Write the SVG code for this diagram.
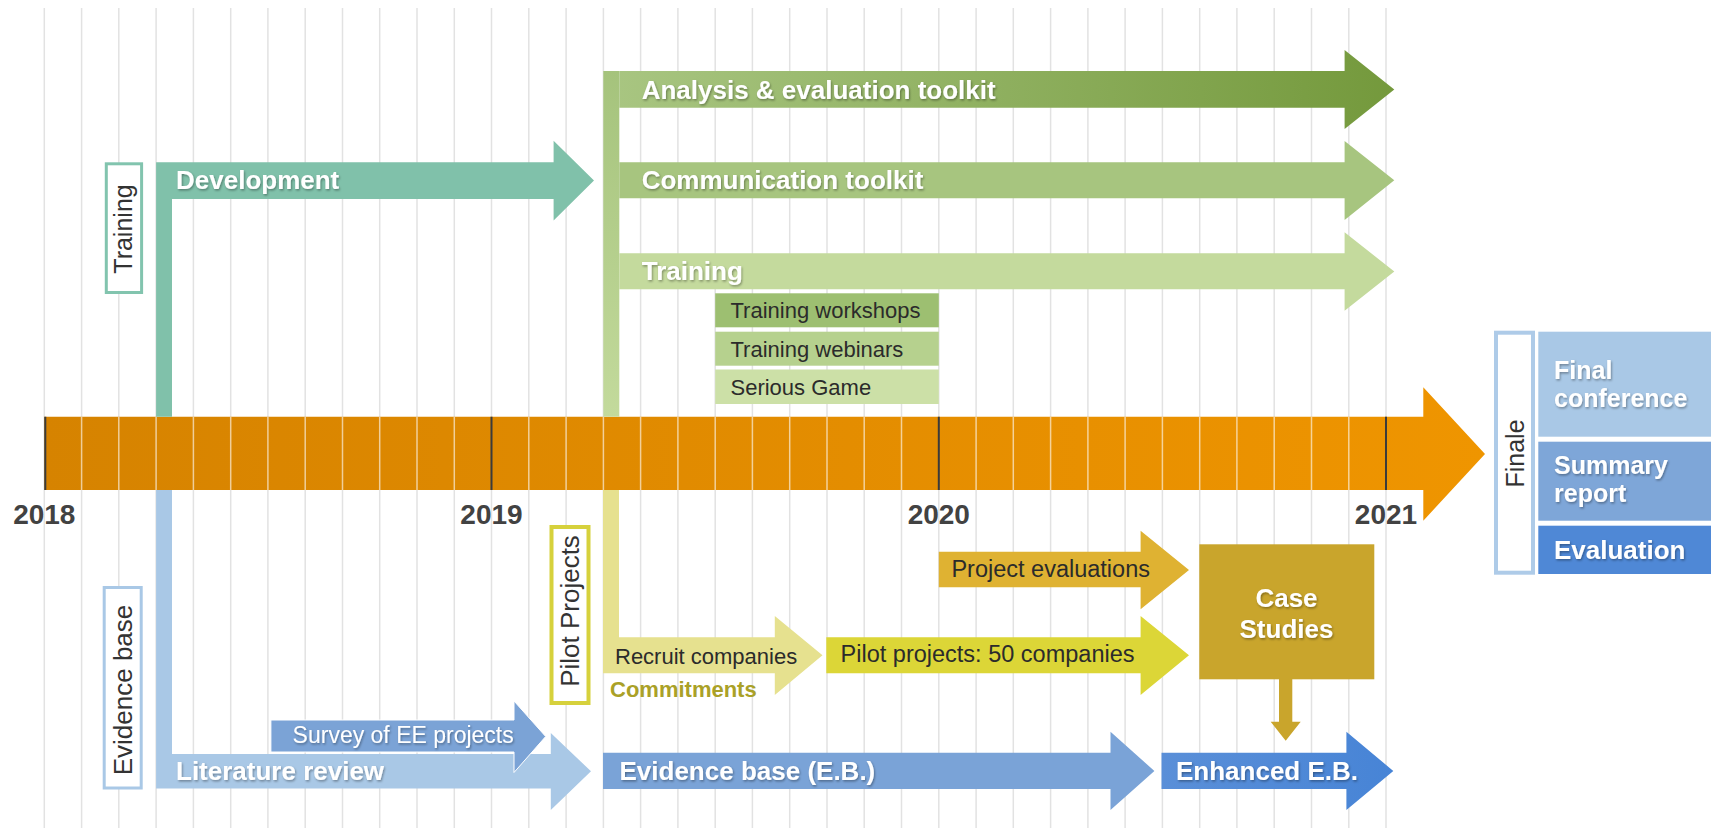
<svg xmlns="http://www.w3.org/2000/svg" width="1711" height="834" viewBox="0 0 1711 834">
<defs>
  <linearGradient id="gOrange" gradientUnits="userSpaceOnUse" x1="44" y1="0" x2="1485" y2="0">
    <stop offset="0" stop-color="#d68300"/>
    <stop offset="1" stop-color="#ef9500"/>
  </linearGradient>
  <linearGradient id="gGreenV" gradientUnits="userSpaceOnUse" x1="0" y1="71" x2="0" y2="417">
    <stop offset="0" stop-color="#a5c37c"/>
    <stop offset="1" stop-color="#c3da9c"/>
  </linearGradient>
  <linearGradient id="gAnalysis" gradientUnits="userSpaceOnUse" x1="603" y1="0" x2="1394" y2="0">
    <stop offset="0" stop-color="#a9c682"/>
    <stop offset="1" stop-color="#74993c"/>
  </linearGradient>
  <linearGradient id="gEnh" gradientUnits="userSpaceOnUse" x1="1161" y1="0" x2="1393" y2="0">
    <stop offset="0" stop-color="#5a8fd8"/>
    <stop offset="1" stop-color="#4784d6"/>
  </linearGradient>
  <filter id="ts" x="-10%" y="-40%" width="120%" height="180%">
    <feDropShadow dx="1" dy="1.5" stdDeviation="1" flood-color="#000" flood-opacity="0.35"/>
  </filter>
</defs>
<style>
  text{font-family:"Liberation Sans",Arial,sans-serif}
  .wb{fill:#fff;font-weight:bold;font-size:26px;filter:url(#ts)}
  .wb2{fill:#fff;font-weight:bold;font-size:25px;filter:url(#ts)}
  .wr{fill:#fff;font-size:23px;filter:url(#ts)}
  .dk{fill:#2b2b2b;font-size:23px}
  .sb{fill:#2b2b2b;font-size:22px}
  .vt{fill:#333;font-size:25px;text-anchor:middle}
  .yr{fill:#424242;font-weight:bold;font-size:28px;text-anchor:middle}
  .vbox{fill:#fff}
  .grid{stroke:#e2e2e2;stroke-width:1.5;fill:none}
</style>
<rect x="0" y="0" width="1711" height="834" fill="#fff"/>

<g id="grid">
  <path class="grid" d="M44.3 8V828M81.6 8V828M118.8 8V828M156.1 8V828M193.4 8V828M230.7 8V828M267.9 8V828M305.2 8V828M342.5 8V828M379.7 8V828M417 8V828M454.3 8V828M491.5 8V828M528.8 8V828M566.1 8V828M603.4 8V828M640.6 8V828M677.9 8V828M715.2 8V828M752.4 8V828M789.7 8V828M827 8V828M864.2 8V828M901.5 8V828M938.8 8V828M976.1 8V828M1013.3 8V828M1050.6 8V828M1087.9 8V828M1125.1 8V828M1162.4 8V828M1199.7 8V828M1236.9 8V828M1274.2 8V828M1311.5 8V828M1348.8 8V828M1386 8V828"/>
</g>

<g id="timeline">
  <polygon fill="url(#gOrange)" points="44.3,416.7 1423.3,416.7 1423.3,387.3 1485,454 1423.3,520.7 1423.3,490 44.3,490"/>
  <path stroke="#fff" stroke-opacity="0.6" stroke-width="1.5" fill="none" d="M81.6 416.7V490M118.8 416.7V490M156.1 416.7V490M193.4 416.7V490M230.7 416.7V490M267.9 416.7V490M305.2 416.7V490M342.5 416.7V490M379.7 416.7V490M417 416.7V490M454.3 416.7V490M528.8 416.7V490M566.1 416.7V490M603.4 416.7V490M640.6 416.7V490M677.9 416.7V490M715.2 416.7V490M752.4 416.7V490M789.7 416.7V490M827 416.7V490M864.2 416.7V490M901.5 416.7V490M976.1 416.7V490M1013.3 416.7V490M1050.6 416.7V490M1087.9 416.7V490M1125.1 416.7V490M1162.4 416.7V490M1199.7 416.7V490M1236.9 416.7V490M1274.2 416.7V490M1311.5 416.7V490M1348.8 416.7V490"/>
  <path stroke="#3b3b3b" stroke-width="2" fill="none" d="M45.3 416.7V490M491.5 416.7V490M938.8 416.7V490M1386 416.7V490"/>
  <text class="yr" x="44.3" y="524">2018</text>
  <text class="yr" x="491.5" y="524">2019</text>
  <text class="yr" x="938.8" y="524">2020</text>
  <text class="yr" x="1386" y="524">2021</text>
</g>

<g id="training-label">
  <rect class="vbox" x="106.3" y="163.8" width="35.3" height="128.7" stroke="#82c4ae" stroke-width="3"/>
  <text class="vt" transform="translate(132,229) rotate(-90)">Training</text>
</g>

<g id="development">
  <polygon fill="#80c1aa" points="156.1,416.7 156.1,162.3 553.6,162.3 553.6,140.7 594,180.6 553.6,220.5 553.6,199 172,199 172,416.7"/>
  <text class="wb" x="176" y="188.5">Development</text>
</g>

<g id="green-stem">
  <rect x="603.3" y="71" width="16" height="345.7" fill="url(#gGreenV)"/>
</g>

<g id="analysis-toolkit">
  <polygon fill="url(#gAnalysis)" points="619.3,71 1344.6,71 1344.6,50 1394.3,89.5 1344.6,129 1344.6,107.7 619.3,107.7"/>
  <text class="wb" x="641.7" y="98.5">Analysis &amp; evaluation toolkit</text>
</g>

<g id="communication-toolkit">
  <polygon fill="#a7c57f" points="619.3,162.3 1344.6,162.3 1344.6,141 1394.3,180.3 1344.6,220 1344.6,198.3 619.3,198.3"/>
  <text class="wb" x="641.7" y="189">Communication toolkit</text>
</g>

<g id="training-arrow">
  <polygon fill="#c4da9d" points="619.3,253.3 1344.6,253.3 1344.6,232.3 1394.3,271.5 1344.6,310.7 1344.6,289.3 619.3,289.3"/>
  <text class="wb" x="641.7" y="280">Training</text>
</g>

<g id="training-workshops">
  <rect x="715.2" y="293.3" width="223.6" height="34" fill="#9dbf71"/>
  <text class="sb" x="730.5" y="318.3">Training workshops</text>
</g>
<g id="training-webinars">
  <rect x="715.2" y="331.7" width="223.6" height="34" fill="#b6d18e"/>
  <text class="sb" x="730.5" y="356.5">Training webinars</text>
</g>
<g id="serious-game">
  <rect x="715.2" y="369.5" width="223.6" height="34.5" fill="#cce0a7"/>
  <text class="sb" x="730.5" y="394.8">Serious Game</text>
</g>

<g id="evidence-label">
  <rect class="vbox" x="104.2" y="587.5" width="37" height="200.5" stroke="#a9c8e6" stroke-width="3"/>
  <text class="vt" style="font-size:26px" transform="translate(131.5,690) rotate(-90)">Evidence base</text>
</g>

<g id="literature-review">
  <polygon fill="#a9c8e6" points="156.1,490 172,490 172,754 550.8,754 550.8,733 591,771.3 550.8,810 550.8,788.5 156.1,788.5"/>
  <text class="wb" x="176" y="780">Literature review</text>
</g>

<g id="survey">
  <polygon fill="#7ba3d6" stroke="#fff" stroke-width="1" points="270.9,720 514,720 514,701 545.7,736.5 514,772.5 514,752 270.9,752"/>
  <text class="wr" x="292.6" y="743">Survey of EE projects</text>
</g>

<g id="evidence-base">
  <polygon fill="#7aa3d7" points="603,752.7 1110.5,752.7 1110.5,731.7 1154.4,771 1110.5,810 1110.5,789 603,789"/>
  <text class="wb" x="619.5" y="780">Evidence base (E.B.)</text>
</g>

<g id="enhanced-eb">
  <polygon fill="url(#gEnh)" points="1161.5,752.7 1346.4,752.7 1346.4,731.7 1393.3,771 1346.4,810 1346.4,789 1161.5,789"/>
  <text class="wb" x="1176" y="780">Enhanced E.B.</text>
</g>

<g id="pilot-label">
  <rect class="vbox" x="551.5" y="527" width="37" height="176" stroke="#d6d13c" stroke-width="4"/>
  <text class="vt" style="font-size:26px" transform="translate(578.5,611) rotate(-90)">Pilot Projects</text>
</g>

<g id="recruit-companies">
  <polygon fill="#e6e18f" points="603,490 619,490 619,637.3 774.8,637.3 774.8,616 822.5,655.3 774.8,695 774.8,673.3 603,673.3"/>
  <text class="dk" style="font-size:22px" x="615" y="664">Recruit companies</text>
  <text x="610" y="697" style="font-size:22px;font-weight:bold;fill:#aaa127">Commitments</text>
</g>

<g id="pilot-projects">
  <polygon fill="#dcd637" points="826.3,637.3 1140.6,637.3 1140.6,616 1189,655.3 1140.6,695 1140.6,673.3 826.3,673.3"/>
  <text class="dk" style="font-size:23.5px" x="840.6" y="662">Pilot projects: 50 companies</text>
</g>

<g id="project-evaluations">
  <polygon fill="#dfb232" points="938.8,551.7 1140.6,551.7 1140.6,530.7 1189,570 1140.6,609.3 1140.6,587.3 938.8,587.3"/>
  <text class="dk" style="font-size:23.5px" x="951.4" y="577">Project evaluations</text>
</g>

<g id="case-studies">
  <rect x="1199.3" y="544.3" width="175" height="135" fill="#c9a52c"/>
  <text class="wb" text-anchor="middle"><tspan x="1286.5" y="607.3">Case</tspan><tspan x="1286.5" y="638.3">Studies</tspan></text>
</g>

<g id="connectors">
  <polygon fill="#c9a52c" points="1279,679 1292.3,679 1292.3,721.7 1300.7,721.7 1285.7,740.7 1270.7,721.7 1279,721.7"/>
</g>

<g id="finale-label">
  <rect class="vbox" x="1496" y="332.7" width="37" height="240" stroke="#aecbe8" stroke-width="4"/>
  <text class="vt" transform="translate(1523.5,453.5) rotate(-90)">Finale</text>
</g>

<g id="final-conference">
  <rect x="1538.3" y="331.7" width="173" height="105" fill="#a9c8e6"/>
  <text class="wb2"><tspan x="1554" y="378.5">Final</tspan><tspan x="1554" y="406.5">conference</tspan></text>
</g>

<g id="summary-report">
  <rect x="1538.3" y="441.7" width="173" height="79" fill="#7ea6d8"/>
  <text class="wb2"><tspan x="1554" y="474">Summary</tspan><tspan x="1554" y="502">report</tspan></text>
</g>

<g id="evaluation">
  <rect x="1538.3" y="525.7" width="173" height="48.3" fill="#4f88d6"/>
  <text class="wb" x="1554" y="559">Evaluation</text>
</g>
</svg>
